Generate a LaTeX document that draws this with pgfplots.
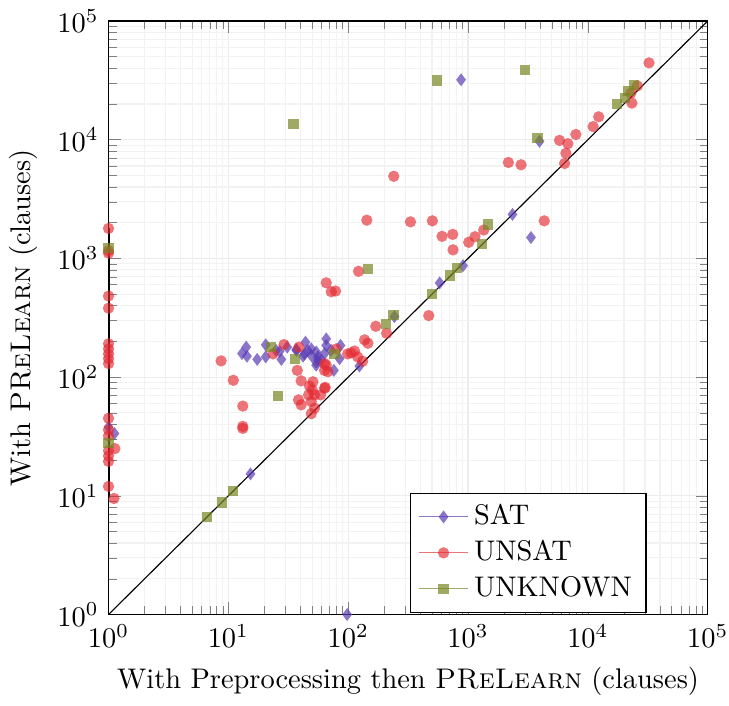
\documentclass[border=0pt]{standalone}
\usepackage{pgfplots}
\pgfplotsset{compat=1.18}
\definecolor{satc}{RGB}{90,60,180}
\definecolor{unsatc}{RGB}{227,41,49}
\definecolor{unkc}{RGB}{120,134,34}
\begin{document}
\begin{tikzpicture}[trim right=(trimR)]
\begin{axis}[
    xmode=log, ymode=log,
    xmin=1, xmax=100000, ymin=1, ymax=100000,
    scale only axis, width=211pt, height=209pt,
    grid=both,
    major grid style={gray!15},
    minor grid style={gray!10},
    xlabel={With Preprocessing then \textsc{PReLearn} (clauses)},
    ylabel={With \textsc{PReLearn} (clauses)},
    legend style={at={(0.898,0.003)}, anchor=south east, cells={anchor=west}},
    legend image code/.code={
        \draw[#1] (0cm,0cm) -- (0.6cm,0cm);
        \draw[#1] plot coordinates {(0.3cm,0cm)};
    },
]
% diagonal and line on the left edge
\addplot[black, thin, forget plot] coordinates {(1,1) (100000,100000)};
\addplot[black, line width=0.9pt, forget plot] coordinates {(1,9.5) (1,1790)};

% SAT
\addplot[only marks, mark=diamond*, mark size=2.3pt, color=satc, opacity=0.7,
    mark options={draw opacity=0}] coordinates {
(1,38) (1.12,33.5) (15.3,15.3) (98,1)
(13,158) (14.1,179) (14.3,150) (17.4,141) (20.5,187) (20.5,148) (25,168) (26.8,165) (27.7,141)
(31,179) (36.9,171) (37,168) (42,150) (44,197) (43.3,157) (46,168) (49.2,173) (49.2,152)
(54.1,163) (55.9,148) (54.1,134) (56,139) (54,126) (59.6,140) (65.6,210) (65.6,185) (63.5,158)
(72,168) (86.3,185) (84.7,143) (76,114)
(124,124) (243,324) (580,622) (908,869) (2350,2350) (3350,1500) (875,32000) (3950,9700)
};
\addlegendentry{SAT}

% UNSAT
\addplot[only marks, mark=*, mark size=2.0pt, color=unsatc, opacity=0.65,
    mark options={draw opacity=0}] coordinates {
(1,1790) (1,1160) (1,1107) (1,482) (1,381) (1,191) (1,173) (1,157) (1,143) (1,130)
(1,45) (1,36) (1,32) (1.13,25) (1,24) (1,21.7) (1,19.5) (1,12) (1.11,9.5)
(8.7,137) (11,94) (13.2,57) (13.2,38.5) (13.2,37) (23.6,157) (29.1,188) (38.8,179)
(79.4,173) (99,157) (65.6,126) (63.5,114) (67.7,111) (63.5,130) (37.6,114) (40.5,93)
(50.8,91.4) (50.1,78) (63.5,80.5) (46.7,70.8) (52.4,70.8) (58.8,70.8) (38.5,64.3)
(40.5,58.4) (49.2,62.3) (52.4,54.8) (49.2,49.2) (47.6,84) (64.3,82)
(106,160) (113,166) (120,148) (132,136) (137,206) (146,193) (170,268) (209,234)
(65.6,623) (72.2,524) (78.4,531) (122,779) (143,2100) (240,4920) (331,2033) (470,330)
(504,2073) (607,1535) (745,1594) (750,1181) (1013,1367) (1143,1525) (1352,1735)
(2170,6430) (2770,6150) (4325,2073) (5800,9870) (6810,9260) (6560,7690) (6390,6310)
(7940,11070) (11060,12900) (12300,15600) (25900,28400) (22800,24600) (23300,20350) (32400,44400)
};
\addlegendentry{UNSAT}

% UNKNOWN
\addplot[only marks, mark=square*, mark size=1.8pt, color=unkc, opacity=0.7,
    mark options={draw opacity=0}] coordinates {
(1,1220) (1,27.7) (6.6,6.6) (8.8,8.8) (10.9,10.9) (25.9,69.5) (22.8,179) (36.2,143) (77,157)
(35,13500) (147,815) (239,334) (207,280) (498,498) (712,717) (805,830) (1300,1316) (1459,1931)
(550,31600) (3000,38500) (3800,10300) (17400,19950) (20300,22400) (21800,25900) (24200,28900)
};
\addlegendentry{UNKNOWN}
\end{axis}
\coordinate (trimR) at ([xshift=7.5pt]current axis.east);
\end{tikzpicture}
\end{document}
